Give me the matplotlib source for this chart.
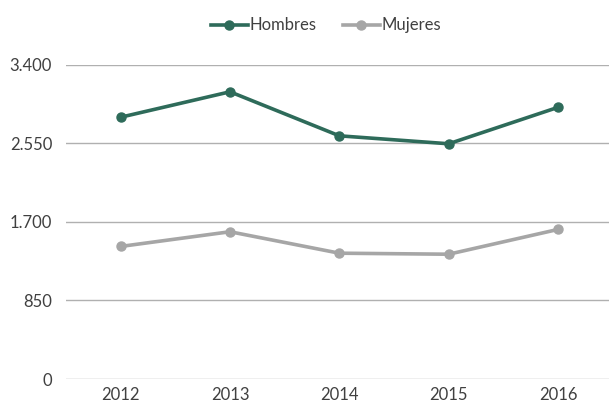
import matplotlib.pyplot as plt
from matplotlib.ticker import FuncFormatter

# data
years = ["2012", "2013", "2014", "2015", "2016"]
hombres = [2830, 3105, 2629, 2543, 2937]
mujeres = [1433, 1592, 1360, 1349, 1617]
yticks = [0, 850, 1700, 2550, 3400]

GREEN = "#2E6B5A"
GREY = "#A6A6A6"
TEXT = "#404040"
GRID = "#B0B0B0"

plt.rcParams["font.family"] = ["Lato", "DejaVu Sans"]

fig = plt.figure(figsize=(6.09, 4.03), dpi=100)
ax = fig.add_axes([66 / 609, 24 / 403, 543 / 609, (379 - 64.5) / 403])

x = list(range(len(years)))
ax.plot(x, hombres, color=GREEN, lw=2.6, marker="o", ms=6.5, label="Hombres", zorder=3)
ax.plot(x, mujeres, color=GREY, lw=2.6, marker="o", ms=6.5, label="Mujeres", zorder=3)

ax.set_xlim(-0.5, 4.466)
ax.set_ylim(0, 3400)
ax.set_yticks(yticks)
ax.yaxis.set_major_formatter(FuncFormatter(lambda v, p: f"{int(v):,}".replace(",", ".")))
ax.set_xticks(x)
ax.set_xticklabels(years)
ax.grid(axis="y", color=GRID, lw=1)
ax.set_axisbelow(True)
for s in ax.spines.values():
    s.set_visible(False)
ax.tick_params(axis="both", length=0, labelsize=12, colors=TEXT)
ax.tick_params(axis="y", pad=10)
ax.tick_params(axis="x", pad=6)

fig.legend(loc="upper center", bbox_to_anchor=(0.535, 0.99), ncol=2, frameon=False,
           fontsize=12, labelcolor=TEXT, handlelength=2.2, handletextpad=0.1,
           columnspacing=1.6, borderaxespad=0.4)

fig.savefig("out.png", dpi=100)
